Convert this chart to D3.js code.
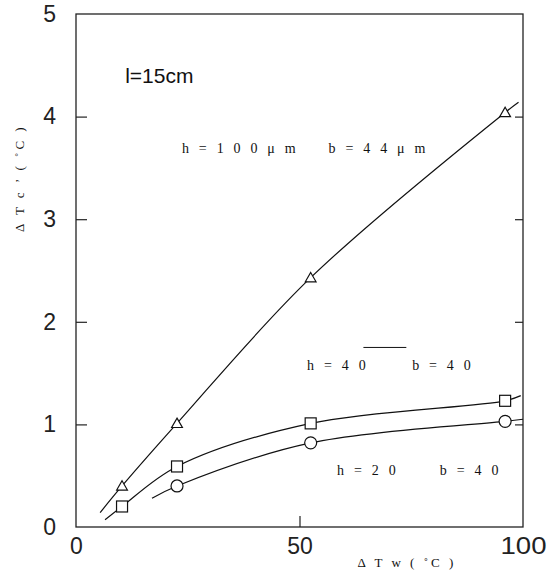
<!DOCTYPE html>
<html>
<head>
<meta charset="utf-8">
<script src="https://cdn.jsdelivr.net/npm/d3@7"></script>
<style>
  body { margin: 0; background: #fff; }
  svg { display: block; }
  .frame { fill: none; stroke: #222; stroke-width: 1.3; }
  .tick line { stroke: #222; stroke-width: 1.2; }
  .domain { display: none; }
  .ticklabel text { font-family: "Liberation Sans", sans-serif; font-size: 23px; fill: #222; }
  .curve { fill: none; stroke: #111; stroke-width: 1.2; }
  .marker { fill: #fff; stroke: #111; stroke-width: 1.2; }
  .note { font-family: "Liberation Serif", serif; font-size: 14px; fill: #111; letter-spacing: 3.2px; }
</style>
</head>
<body>
<svg id="chart" width="555" height="572"></svg>
<script>
// Axis ranges and tick labels
var xTicks = [0, 50, 100];
var yTicks = [0, 1, 2, 3, 4, 5];

// Measured points (delta Tw, delta Tc')
var triX = [10.3, 22.6, 52.5, 96.0];
var triY = [0.40, 1.01, 2.43, 4.04];
var sqX = [10.3, 22.6, 52.5, 96.0];
var sqY = [0.20, 0.59, 1.01, 1.23];
var circX = [22.6, 52.5, 96.0];
var circY = [0.40, 0.82, 1.03];

// Fitted curves drawn through the points (start, ..., end)
var triFitX = [5.4, 10.3, 22.6, 52.5, 96.0, 99.0];
var triFitY = [0.14, 0.40, 1.01, 2.43, 4.04, 4.14];
var sqFitX = [6.5, 10.3, 22.6, 52.5, 96.0, 99.5];
var sqFitY = [0.07, 0.20, 0.59, 1.01, 1.23, 1.28];
var circFitX = [17.0, 22.6, 52.5, 96.0, 100];
var circFitY = [0.28, 0.40, 0.82, 1.03, 1.05];

// Text notes inside the plot (data coordinates)
var notes = [
  { text: "l=15cm", x: 11, y: 4.33, big: true },
  { text: "h = 1 0 0 \u03bc m", x: 23.7, y: 3.65 },
  { text: "b = 4 4 \u03bc m", x: 56.5, y: 3.65 },
  { text: "h = 4 0", x: 51.7, y: 1.53 },
  { text: "b = 4 0", x: 75.2, y: 1.53 },
  { text: "h = 2 0", x: 58.4, y: 0.51 },
  { text: "b = 4 0", x: 81.4, y: 0.51 }
];

var width = 555, height = 572;
var margin = { left: 76, right: 32, top: 14, bottom: 45 };

var svg = d3.select('#chart');

var x = d3.scaleLinear().domain([0, 100]).range([margin.left, width - margin.right]);
var y = d3.scaleLinear().domain([0, 5]).range([height - margin.bottom, margin.top]);

var zip = function(xs, ys) { return xs.map(function(v, i) { return [v, ys[i]]; }); };

// frame
svg.append('rect').attr('class', 'frame')
  .attr('x', x(0)).attr('y', y(5))
  .attr('width', x(100) - x(0)).attr('height', y(0) - y(5));

// bottom axis: inward tick at 50 only
var gx = svg.append('g').attr('class', 'ticklabel')
  .attr('transform', 'translate(0,' + y(0) + ')')
  .call(d3.axisBottom(x).tickValues(xTicks).tickFormat(d3.format('d'))
    .tickSizeInner(-11).tickSizeOuter(0).tickPadding(11));
gx.selectAll('.tick').filter(function(d) { return d !== 50; }).select('line').remove();
gx.selectAll('.tick text').attr('dy', '0.71em')
  .each(function(d) { if (d === 100) d3.select(this).attr('textLength', 46).attr('lengthAdjust', 'spacingAndGlyphs'); });

// left axis
var gy = svg.append('g').attr('class', 'ticklabel')
  .attr('transform', 'translate(' + x(0) + ',0)')
  .call(d3.axisLeft(y).tickValues(yTicks).tickFormat(d3.format('d'))
    .tickSizeInner(-11).tickSizeOuter(0).tickPadding(20));
gy.selectAll('.tick').filter(function(d) { return d === 0 || d === 5; }).select('line').remove();

// right axis ticks
svg.append('g')
  .attr('transform', 'translate(' + x(100) + ',0)')
  .call(d3.axisRight(y).tickValues([1, 2, 3, 4]).tickSizeInner(-8).tickSizeOuter(0).tickFormat(''));

// curves
var line = d3.line()
  .x(function(d) { return x(d[0]); })
  .y(function(d) { return y(d[1]); })
  .curve(d3.curveCatmullRom.alpha(0.5));

[zip(triFitX, triFitY), zip(sqFitX, sqFitY), zip(circFitX, circFitY)].forEach(function(pts) {
  svg.append('path').attr('class', 'curve').attr('d', line(pts));
});

// markers
svg.selectAll('path.tri').data(zip(triX, triY)).enter().append('path')
  .attr('class', 'marker tri')
  .attr('d', d3.symbol().type(d3.symbolTriangle).size(50))
  .attr('transform', function(d) { return 'translate(' + x(d[0]) + ',' + (y(d[1]) + 1) + ')'; });

svg.selectAll('rect.sq').data(zip(sqX, sqY)).enter().append('rect')
  .attr('class', 'marker sq')
  .attr('x', function(d) { return x(d[0]) - 5.5; })
  .attr('y', function(d) { return y(d[1]) - 5.5; })
  .attr('width', 11).attr('height', 11);

svg.selectAll('circle.circ').data(zip(circX, circY)).enter().append('circle')
  .attr('class', 'marker circ')
  .attr('cx', function(d) { return x(d[0]); })
  .attr('cy', function(d) { return y(d[1]); })
  .attr('r', 6);

// notes
notes.forEach(function(n) {
  var t = svg.append('text').attr('class', 'note')
    .attr('x', x(n.x)).attr('y', y(n.y))
    .text(n.text);
  if (n.big) {
    t.style('font-family', '"Liberation Sans", sans-serif')
      .style('font-size', '21px').style('letter-spacing', '0px');
  }
});

// short rule above "h = 40  b = 40"
svg.append('line').attr('stroke', '#111').attr('stroke-width', 1)
  .attr('x1', x(64.3)).attr('x2', x(73.9))
  .attr('y1', y(1.75)).attr('y2', y(1.75));

// axis titles
svg.append('text').attr('class', 'note')
  .attr('x', x(63)).attr('y', 567)
  .style('font-size', '13px').style('letter-spacing', '3px')
  .text('\u0394 T w ( \u02daC )');

svg.append('text').attr('class', 'note')
  .attr('transform', 'translate(24,' + y(3.4) + ') rotate(-90)')
  .attr('text-anchor', 'middle')
  .style('font-size', '13px').style('letter-spacing', '3px')
  .text('\u0394 T c \u2019 ( \u02daC )');
</script>
</body>
</html>
